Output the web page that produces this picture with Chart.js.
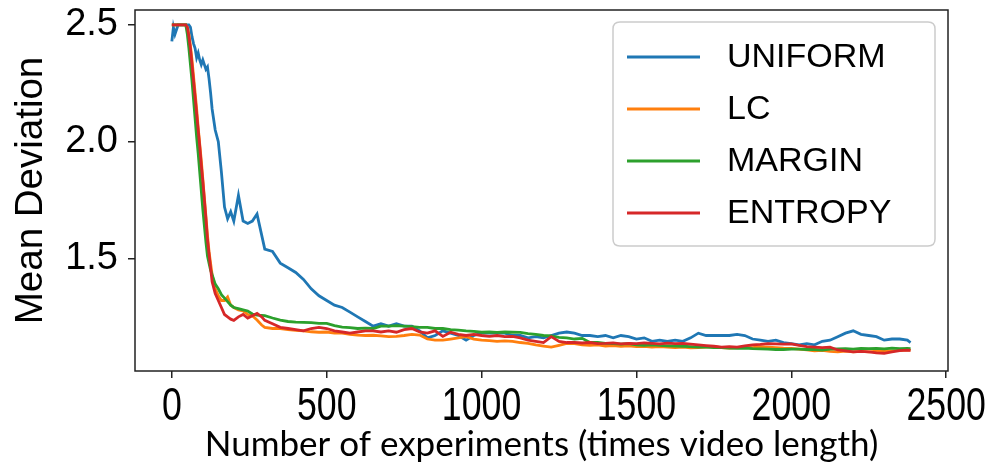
<!DOCTYPE html>
<html><head><meta charset="utf-8">
<script src="https://cdn.jsdelivr.net/npm/chart.js@4.4.0/dist/chart.umd.min.js"></script>
<style>html,body{margin:0;padding:0;background:#fff}#wrap{width:989px;height:474px;position:relative}</style>
</head><body><div id="wrap"><canvas id="c" width="989" height="474"></canvas></div>
<script>
const xs = [0,5,10,20,30,40,45,50,55,60,65,70,75,80,85,90,95,100,105,110,115,120,125,130,140,150,160,170,180,190,200,
215,230,245,260,275,290,
300,325,350,375,400,425,450,475,500,525,550,575,600,625,650,675,700,725,750,775,800,825,850,875,900,925,950,975,
1000,1025,1050,1075,1100,1125,1150,1175,1200,1225,1250,1275,1300,1325,1350,1375,1400,1425,1450,1475,1500,1525,1550,1575,
1600,1625,1650,1675,1700,1725,1750,1775,1800,1825,1850,1875,1900,1925,1950,1975,2000,2025,2050,2075,2100,2125,2150,2175,
2200,2225,2250,2275,2300,2325,2350,2375,2385];

const uniform = [2.43,2.49,2.46,2.50,2.50,2.50,2.50,2.50,2.50,2.49,2.45,2.42,2.40,2.36,2.38,2.35,2.33,2.35,2.33,2.31,2.32,2.27,2.21,2.14,2.05,2.00,1.87,1.72,1.67,1.70,1.66,
1.77,1.66,1.65,1.66,1.69,1.60,
1.54,1.53,1.48,1.46,1.44,1.41,1.37,1.34,1.32,1.30,
1.29,1.27,1.25,1.23,1.21,1.22,1.21,1.22,1.21,1.21,
1.19,1.16,1.17,1.19,1.18,1.17,1.15,1.17,1.18,1.18,
1.18,1.18,1.17,1.17,1.16,1.165,1.16,1.17,1.18,1.185,
1.18,1.17,1.17,1.165,1.17,1.16,1.17,1.165,1.155,1.16,
1.145,1.15,1.145,1.15,1.145,1.16,1.18,1.17,1.17,1.17,
1.17,1.175,1.17,1.155,1.15,1.145,1.15,1.14,1.135,1.13,
1.135,1.13,1.145,1.15,1.165,1.18,1.19,1.175,1.17,1.165,
1.15,1.155,1.155,1.15,1.14];

const lc = [2.50,2.50,2.50,2.50,2.50,2.50,2.50,2.49,2.46,2.41,2.35,2.28,2.21,2.14,2.06,1.99,1.92,1.84,1.76,1.68,1.60,1.53,1.48,1.43,1.37,1.34,1.32,1.32,1.335,1.30,1.29,
1.28,1.275,1.26,1.255,1.236,1.215,
1.205,1.20,1.20,1.195,1.192,1.19,1.186,1.184,1.185,1.18,
1.18,1.175,1.172,1.17,1.171,1.168,1.165,1.166,1.17,1.175,
1.172,1.155,1.15,1.15,1.155,1.16,1.165,1.155,1.15,1.148,
1.145,1.147,1.145,1.14,1.136,1.13,1.125,1.12,1.128,1.136,
1.135,1.13,1.128,1.13,1.125,1.127,1.124,1.126,1.122,1.124,
1.12,1.122,1.12,1.118,1.12,1.117,1.118,1.12,1.122,1.118,
1.116,1.118,1.12,1.118,1.122,1.12,1.118,1.116,1.115,1.112,
1.108,1.104,1.106,1.102,1.10,1.103,1.10,1.102,1.10,1.103,
1.105,1.104,1.106,1.108,1.108];

const margin = [2.50,2.50,2.50,2.50,2.50,2.50,2.50,2.46,2.40,2.33,2.26,2.18,2.10,2.02,1.95,1.87,1.79,1.71,1.64,1.57,1.51,1.48,1.45,1.43,1.39,1.37,1.345,1.33,1.315,1.30,1.29,
1.285,1.28,1.275,1.262,1.257,1.256,
1.255,1.245,1.236,1.23,1.227,1.226,1.225,1.222,1.222,1.212,
1.206,1.204,1.20,1.202,1.20,1.21,1.21,1.212,1.21,1.208,
1.205,1.205,1.20,1.20,1.195,1.193,1.19,1.188,1.184,1.185,
1.183,1.185,1.184,1.183,1.178,1.175,1.17,1.168,1.162,1.16,
1.155,1.158,1.14,1.14,1.136,1.135,1.133,1.135,1.13,1.128,
1.13,1.128,1.126,1.125,1.124,1.122,1.12,1.12,1.118,1.118,
1.116,1.115,1.116,1.114,1.113,1.112,1.11,1.11,1.112,1.112,
1.11,1.11,1.108,1.112,1.113,1.114,1.112,1.115,1.114,1.115,
1.113,1.116,1.114,1.115,1.114];

const entropy = [2.50,2.50,2.50,2.50,2.50,2.50,2.50,2.49,2.45,2.40,2.33,2.26,2.19,2.12,2.05,1.98,1.90,1.83,1.75,1.67,1.58,1.52,1.46,1.40,1.35,1.32,1.29,1.26,1.25,1.24,1.235,
1.25,1.26,1.245,1.255,1.265,1.25,
1.235,1.22,1.205,1.20,1.195,1.19,1.20,1.205,1.20,1.19,
1.185,1.18,1.185,1.19,1.19,1.185,1.19,1.184,1.195,1.20,
1.185,1.18,1.19,1.166,1.184,1.175,1.17,1.175,1.17,1.166,
1.17,1.165,1.166,1.16,1.15,1.145,1.14,1.165,1.145,1.14,
1.14,1.138,1.14,1.135,1.136,1.138,1.134,1.136,1.135,1.138,
1.136,1.134,1.137,1.135,1.136,1.133,1.13,1.127,1.124,1.12,
1.122,1.12,1.126,1.13,1.132,1.135,1.134,1.133,1.134,1.128,
1.122,1.12,1.118,1.12,1.108,1.104,1.10,1.102,1.10,1.096,
1.094,1.10,1.105,1.107,1.106];

const seriesNames = ['UNIFORM','LC','MARGIN','ENTROPY'];
const seriesColors = ['#1f77b4','#ff7f0e','#2ca02c','#d62728'];
const xTicks = [0,500,1000,1500,2000,2500];
const yTicks = [1.5,2.0,2.5];
const xTitle = 'Number of experiments (times video length)';
const yTitle = 'Mean Deviation';

const allSeries = [uniform, lc, margin, entropy];
const datasets = allSeries.map((s,i)=>({
  label: seriesNames[i],
  data: s.map((v,j)=>({x: xs[j], y: v})),
  borderColor: seriesColors[i],
  backgroundColor: seriesColors[i],
  borderWidth: 2.8,
  pointRadius: 0,
  tension: 0,
  fill: false,
  order: allSeries.length - i
}));

const framePlugin = {
  id: 'frame',
  afterDatasetsDraw(chart){
    const {ctx, chartArea:a} = chart;
    ctx.save();
    ctx.strokeStyle = '#222';
    ctx.lineWidth = 1.5;
    ctx.strokeRect(a.left, a.top, a.right - a.left, a.bottom - a.top);
    ctx.restore();
  }
};

// x tick labels drawn in a condensed style (horizontally compressed Liberation Sans)
const xLabelPlugin = {
  id: 'xLabels',
  afterDraw(chart){
    const {ctx, chartArea:a} = chart;
    const sx = chart.scales.x;
    ctx.save();
    ctx.fillStyle = '#000';
    ctx.font = '47px "Liberation Sans", Arial, sans-serif';
    ctx.textAlign = 'center';
    ctx.textBaseline = 'alphabetic';
    xTicks.forEach(v => {
      const px = sx.getPixelForValue(v);
      ctx.save();
      ctx.translate(px, a.bottom + 49);
      ctx.scale(0.76, 1);
      ctx.fillText(String(v), 0, 0);
      ctx.restore();
    });
    ctx.restore();
  }
};

const legendPlugin = {
  id: 'legendBox',
  afterDraw(chart){
    const {ctx, chartArea:a} = chart;
    const w = 322, h = 224;
    const L = a.right - 13 - w, T = a.top + 12, r = 7;
    ctx.save();
    ctx.beginPath();
    ctx.moveTo(L + r, T);
    ctx.lineTo(L + w - r, T); ctx.quadraticCurveTo(L + w, T, L + w, T + r);
    ctx.lineTo(L + w, T + h - r); ctx.quadraticCurveTo(L + w, T + h, L + w - r, T + h);
    ctx.lineTo(L + r, T + h); ctx.quadraticCurveTo(L, T + h, L, T + h - r);
    ctx.lineTo(L, T + r); ctx.quadraticCurveTo(L, T, L + r, T);
    ctx.closePath();
    ctx.fillStyle = 'rgba(255,255,255,0.85)';
    ctx.fill();
    ctx.strokeStyle = '#cccccc';
    ctx.lineWidth = 1.5;
    ctx.stroke();
    chart.data.datasets.forEach((d, i) => {
      const y = T + 35 + i * 52;
      ctx.beginPath();
      ctx.moveTo(L + 14, y); ctx.lineTo(L + 87, y);
      ctx.strokeStyle = d.borderColor;
      ctx.lineWidth = 2.8;
      ctx.stroke();
      ctx.fillStyle = '#000';
      ctx.font = '34px "Liberation Sans", Arial, sans-serif';
      ctx.textBaseline = 'middle';
      ctx.textAlign = 'left';
      ctx.fillText(d.label, L + 114, y + 1);
    });
    ctx.restore();
  }
};

new Chart(document.getElementById('c'), {
  type: 'line',
  data: { datasets },
  options: {
    responsive: false,
    animation: false,
    devicePixelRatio: 1,
    layout: { padding: { left: 0, top: 10, right: 41, bottom: 0 } },
    plugins: { legend: { display: false }, tooltip: { enabled: false } },
    scales: {
      x: {
        type: 'linear', min: -119, max: 2506,
        afterBuildTicks: s => { s.ticks = xTicks.map(v => ({ value: v })); },
        afterFit: s => { s.height = 103; s.paddingLeft = 0; s.paddingRight = 0; },
        ticks: { display: false },
        grid: { drawOnChartArea: false, drawTicks: true, tickLength: 7, color: '#222', lineWidth: 1.5 },
        border: { display: false },
        title: { display: true, text: xTitle, color: '#000', font: { family: 'Lato', size: 35, lineHeight: 1 }, padding: { top: 0, bottom: 11.5 } }
      },
      y: {
        type: 'linear', min: 1.018, max: 2.564,
        afterBuildTicks: s => { s.ticks = yTicks.map(v => ({ value: v })); },
        afterFit: s => { s.width = 135; s.paddingTop = 0; s.paddingBottom = 0; },
        ticks: { color: '#000', font: { family: '"Liberation Sans", Arial', size: 38, lineHeight: 1 }, padding: 10, callback: v => Number(v).toFixed(1) },
        grid: { drawOnChartArea: false, drawTicks: true, tickLength: 7, color: '#222', lineWidth: 1.5 },
        border: { display: false },
        title: { display: true, text: yTitle, color: '#000', font: { family: '"Liberation Sans", Arial', size: 38.5, lineHeight: 1 }, padding: { top: 11.75, bottom: 0 } }
      }
    }
  },
  plugins: [framePlugin, xLabelPlugin, legendPlugin]
});
</script>
</body></html>
